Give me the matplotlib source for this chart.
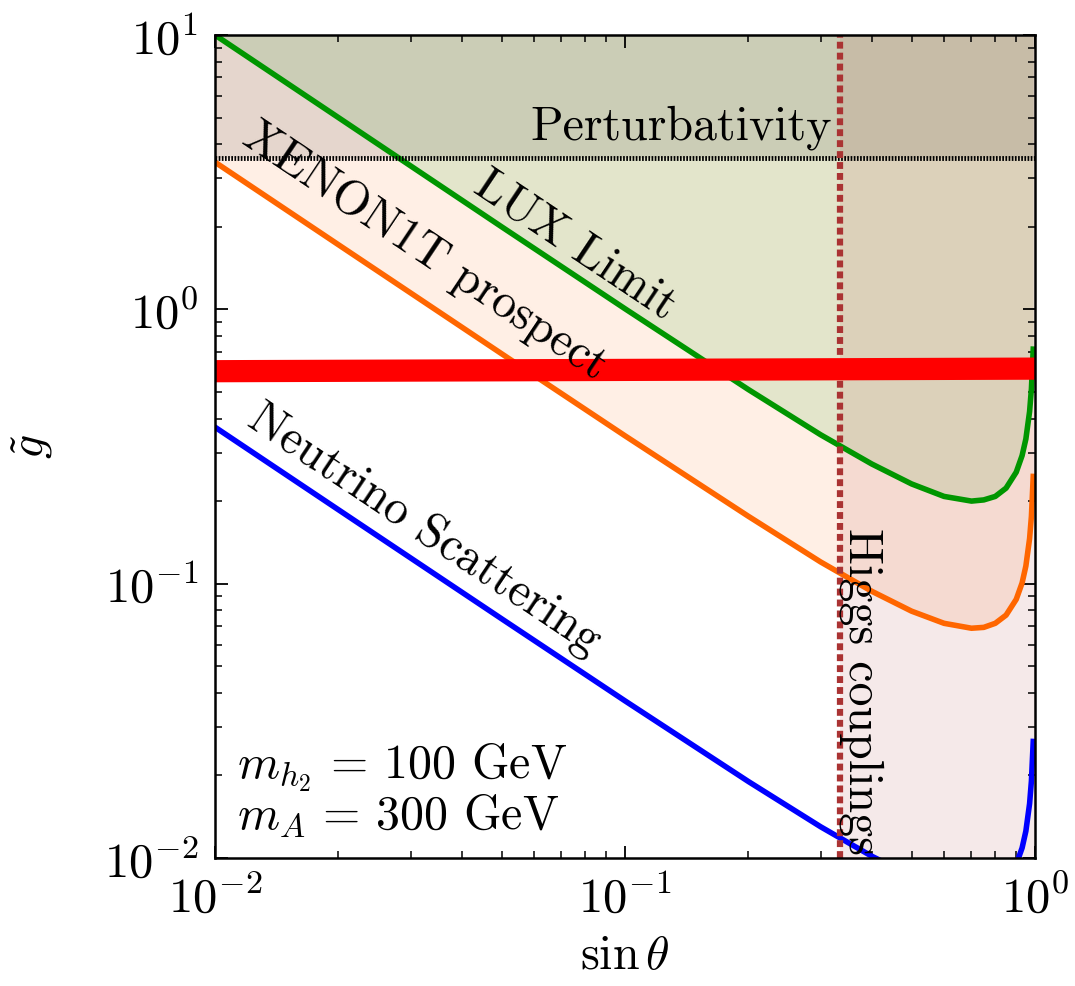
import numpy as np
import matplotlib
matplotlib.use("Agg")
import matplotlib.pyplot as plt

plt.rcParams.update({
    "font.family": "serif",
    "font.serif": ["cmr10"],
    "mathtext.fontset": "cm",
    "axes.formatter.use_mathtext": True,
    "axes.unicode_minus": False,
})

# sin(theta) grid on which the limits were read
sin_theta = [0.01, 0.02, 0.05, 0.1, 0.2, 0.3, 0.4, 0.5, 0.6, 0.7, 0.75,
             0.8, 0.85, 0.9, 0.93, 0.95, 0.97, 0.98, 0.99]

# coupling limits g~ at those points
g_lux = [10.0, 5.0, 2.0, 1.005, 0.510, 0.349, 0.273, 0.231, 0.208, 0.200, 0.202,
         0.208, 0.223, 0.255, 0.293, 0.337, 0.424, 0.513, 0.716]
g_xenon = [3.44, 1.72, 0.689, 0.346, 0.176, 0.120, 0.0938, 0.0794, 0.0717, 0.0688, 0.0693,
           0.0717, 0.0768, 0.0877, 0.1006, 0.116, 0.146, 0.176, 0.246]
g_nu = [0.372, 0.186, 0.0745, 0.0374, 0.0190, 0.0130, 0.01015, 0.00859, 0.00775, 0.00744, 0.0075,
        0.00775, 0.0083, 0.00948, 0.01088, 0.01254, 0.01578, 0.01908, 0.0266]

# relic density band (red)
relic_x = [0.01, 1.0]
relic_g = [0.595, 0.608]

g_pert = 3.56        # perturbativity bound
sin_higgs = 0.334    # Higgs coupling bound

xmin, xmax = 1e-2, 1.0
ymin, ymax = 1e-2, 10.0

fig = plt.figure(figsize=(10.75, 9.86), dpi=100)
ax = fig.add_axes([0.2, 0.1298, 0.7628, 0.8347])
ax.set_xscale("log")
ax.set_yscale("log")

# excluded / prospect regions
ax.fill_between(sin_theta, g_xenon, ymax, color="#ff6600", alpha=0.10, lw=0)
ax.fill_between(sin_theta, g_lux, ymax, color="#009600", alpha=0.11, lw=0)
ax.fill_between([xmin, xmax], g_pert, ymax, color="black", alpha=0.10, lw=0)
ax.fill_between([sin_higgs, xmax], ymin, ymax, color="#a52a2a", alpha=0.10, lw=0)

ax.plot(sin_theta, g_lux, color="#009600", lw=4)
ax.plot(sin_theta, g_xenon, color="#ff6600", lw=4)
ax.plot(sin_theta, g_nu, color="#0000ff", lw=4)

ax.axhline(g_pert, color="black", lw=3.5, linestyle=(0, (0.35, 0.3)))
ax.axvline(sin_higgs, color="#aa3333", lw=4.5, linestyle=(0, (1.1, 0.65)))
ax.plot(relic_x, relic_g, color="#ff0000", lw=16, solid_capstyle="butt")

fs = 34.5
rot = -np.degrees(np.arctan(274.3 / 410.0))
ax.text(0.137, 4.58, "Perturbativity", fontsize=fs, ha="center", va="center")
ax.text(0.0755, 1.71, "LUX Limit", fontsize=fs, ha="center", va="center",
        rotation=rot, rotation_mode="anchor")
ax.text(0.0325, 1.62, "XENON1T prospect", fontsize=fs, ha="center", va="center",
        rotation=rot, rotation_mode="anchor")
ax.text(0.0325, 0.158, "Neutrino Scattering", fontsize=fs, ha="center", va="center",
        rotation=rot, rotation_mode="anchor")
ax.text(0.378, 0.0403, "Higgs couplings", fontsize=fs, ha="center", va="center",
        rotation=270, rotation_mode="anchor")

ax.text(0.027, 0.097, r"$m_{h_2}\,=\,100$ GeV", fontsize=fs, transform=ax.transAxes,
        ha="left", va="baseline")
ax.text(0.027, 0.0352, r"$m_A\,=\,300$ GeV", fontsize=fs, transform=ax.transAxes,
        ha="left", va="baseline")

ax.set_xlim(xmin, xmax)
ax.set_ylim(ymin, ymax)
ax.set_xlabel(r"$\sin\theta$", fontsize=fs, labelpad=10)
ax.set_ylabel(r"$\tilde{g}$", fontsize=fs, labelpad=35)

for s in ax.spines.values():
    s.set_linewidth(1.8)
ax.tick_params(which="both", direction="in", top=True, right=True, labelsize=35)
ax.tick_params(which="major", length=9, width=1.3, pad=12)
ax.tick_params(which="minor", length=5, width=1.1)

fig.savefig("out.png", dpi=100)
